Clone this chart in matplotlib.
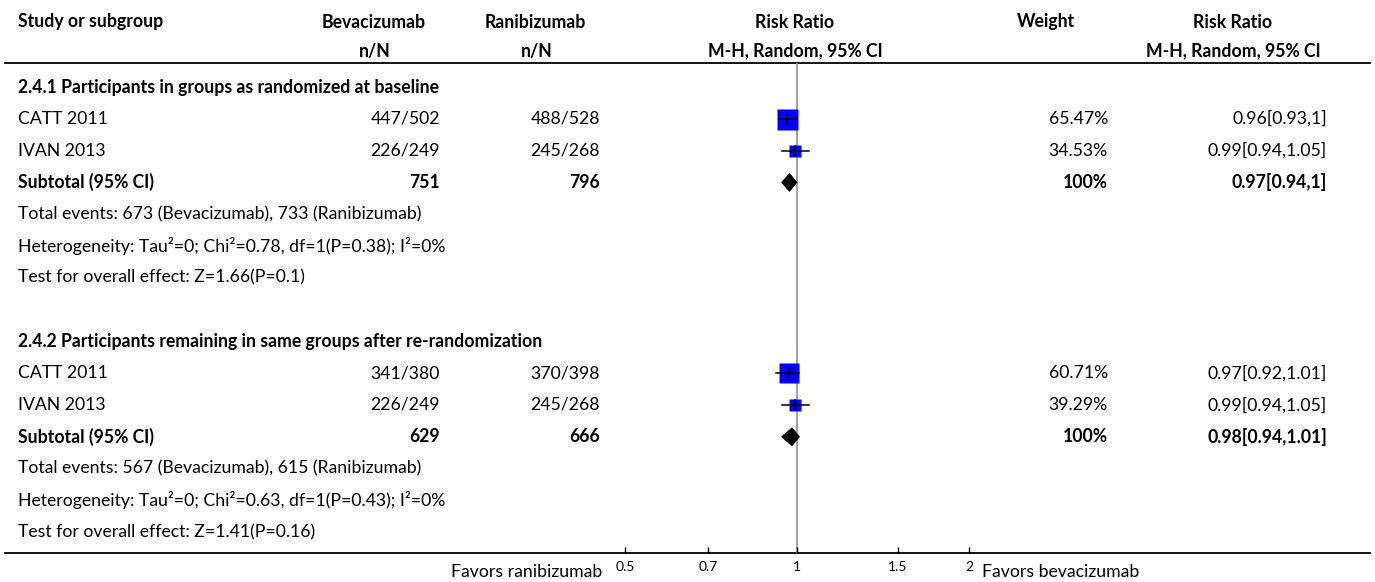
import matplotlib
matplotlib.use("Agg")
import matplotlib.pyplot as plt
from matplotlib.patches import Polygon

# ---------------- data ----------------
group_titles = ["2.4.1 Participants in groups as randomized at baseline",
                "2.4.2 Participants remaining in same groups after re-randomization"]
studies = [["CATT 2011", "IVAN 2013"], ["CATT 2011", "IVAN 2013"]]
bev_events = [[447, 226], [341, 226]]
bev_totals = [[502, 249], [380, 249]]
ran_events = [[488, 245], [370, 245]]
ran_totals = [[528, 268], [398, 268]]
rr = [[0.96, 0.99], [0.97, 0.99]]
rr_lo = [[0.93, 0.94], [0.92, 0.94]]
rr_hi = [[1.0, 1.05], [1.01, 1.05]]
weights = [[65.47, 34.53], [60.71, 39.29]]
sub_rr = [0.97, 0.98]
sub_lo = [0.94, 0.94]
sub_hi = [1.0, 1.01]
sub_bev_total = [751, 629]
sub_ran_total = [796, 666]
sub_bev_events = [673, 567]
sub_ran_events = [733, 615]
het_tau2 = [0, 0]
het_chi2 = [0.78, 0.63]
het_df = [1, 1]
het_p = [0.38, 0.43]
het_i2 = [0, 0]
test_z = [1.66, 1.41]
test_p = [0.1, 0.16]
x_ticks = [0.5, 0.7, 1, 1.5, 2]
x_ticklabels = ["0.5", "0.7", "1", "1.5", "2"]
left_label = "Favors ranibizumab"
right_label = "Favors bevacizumab"

# ---------------- layout ----------------
W, H = 1375, 582
plt.rcParams['font.family'] = ['Lato', 'DejaVu Sans']
FS = 12.7
fig = plt.figure(figsize=(W / 100, H / 100), dpi=100)
tax = fig.add_axes([0, 0, 1, 1])
tax.set_xlim(0, W)
tax.set_ylim(H, 0)
tax.axis('off')

AX_L, AX_R = 600, 975
HDR_LINE, BOT_LINE = 63, 553
fax = fig.add_axes([AX_L / W, (H - BOT_LINE) / H, (AX_R - AX_L) / W, (BOT_LINE - HDR_LINE) / H])
fax.patch.set_alpha(0)
fax.set_xscale('log')
fax.set_xlim(2 ** (-197 / 172), 2 ** (178 / 172))
fax.set_ylim(BOT_LINE, HDR_LINE)
for s in fax.spines.values():
    s.set_visible(False)
fax.set_yticks([])
fax.set_xticks(x_ticks)
fax.set_xticklabels(x_ticklabels)
fax.xaxis.set_minor_locator(matplotlib.ticker.NullLocator())
fax.tick_params(axis='x', direction='in', length=4.5, width=1, pad=6, labelsize=10, color='black')

# header
hy1, hy2 = 22, 51
tax.text(18, hy1, "Study or subgroup", fontsize=FS, fontweight='bold', va='center', ha='left')
tax.text(374, hy1, "Bevacizumab", fontsize=FS, fontweight='bold', va='center', ha='center')
tax.text(375, hy2, "n/N", fontsize=FS, fontweight='bold', va='center', ha='center')
tax.text(535, hy1, "Ranibizumab", fontsize=FS, fontweight='bold', va='center', ha='center')
tax.text(537, hy2, "n/N", fontsize=FS, fontweight='bold', va='center', ha='center')
tax.text(795, hy1, "Risk Ratio", fontsize=FS, fontweight='bold', va='center', ha='center')
tax.text(795, hy2, "M-H, Random, 95% CI", fontsize=FS, fontweight='bold', va='center', ha='center')
tax.text(1046, hy1, "Weight", fontsize=FS, fontweight='bold', va='center', ha='center')
tax.text(1233, hy1, "Risk Ratio", fontsize=FS, fontweight='bold', va='center', ha='center')
tax.text(1233, hy2, "M-H, Random, 95% CI", fontsize=FS, fontweight='bold', va='center', ha='center')
tax.plot([5, 1370], [HDR_LINE, HDR_LINE], color='black', lw=1.3)
tax.plot([5, 1370], [BOT_LINE, BOT_LINE], color='black', lw=1.3)

# null line
fax.axvline(1, color='#999999', lw=1.3, zorder=1)

X_BEV, X_RAN, X_W, X_RR = 440, 600, 1108, 1327
START, PITCH = 87, 31.8
MAXW, MAXPX = 65.47, 21


def fmt_rr(a, b, c):
    return f"{a:g}[{b:g},{c:g}]"


row = 0
for g in range(2):
    y = START + row * PITCH
    tax.text(18, y, group_titles[g], fontsize=FS, fontweight='bold', va='center')
    row += 1
    for i in range(len(studies[g])):
        y = START + row * PITCH
        tax.text(18, y, studies[g][i], fontsize=FS, va='center')
        tax.text(X_BEV, y, f"{bev_events[g][i]}/{bev_totals[g][i]}", fontsize=FS, va='center', ha='right')
        tax.text(X_RAN, y, f"{ran_events[g][i]}/{ran_totals[g][i]}", fontsize=FS, va='center', ha='right')
        tax.text(X_W, y, f"{weights[g][i]:.2f}%", fontsize=FS, va='center', ha='right')
        tax.text(X_RR, y, fmt_rr(rr[g][i], rr_lo[g][i], rr_hi[g][i]), fontsize=FS, va='center', ha='right')
        size_px = MAXPX * weights[g][i] / MAXW
        fax.plot([rr[g][i]], [y], marker='s', ms=size_px * 0.72, color='#0000ff', mec='none', zorder=3)
        fax.plot([rr_lo[g][i], rr_hi[g][i]], [y, y], color='black', lw=1.1, zorder=4)
        fax.plot([rr[g][i], rr[g][i]], [y - 5, y + 5], color='black', lw=1.1, zorder=4)
        row += 1
    y = START + row * PITCH
    tax.text(18, y, "Subtotal (95% CI)", fontsize=FS, fontweight='bold', va='center')
    tax.text(X_BEV, y, f"{sub_bev_total[g]}", fontsize=FS, fontweight='bold', va='center', ha='right')
    tax.text(X_RAN, y, f"{sub_ran_total[g]}", fontsize=FS, fontweight='bold', va='center', ha='right')
    tax.text(X_W, y, "100%", fontsize=FS, fontweight='bold', va='center', ha='right')
    tax.text(X_RR, y, fmt_rr(sub_rr[g], sub_lo[g], sub_hi[g]), fontsize=FS, fontweight='bold', va='center', ha='right')
    dia = Polygon([(sub_lo[g], y), (sub_rr[g], y - 9), (sub_hi[g], y), (sub_rr[g], y + 9)],
                  closed=True, facecolor='black', edgecolor='black', lw=0.5, zorder=3)
    fax.add_patch(dia)
    row += 1
    y = START + row * PITCH
    tax.text(18, y, f"Total events: {sub_bev_events[g]} (Bevacizumab), {sub_ran_events[g]} (Ranibizumab)",
             fontsize=FS, va='center')
    row += 1
    y = START + row * PITCH
    tax.text(18, y, f"Heterogeneity: Tau\u00b2={het_tau2[g]:g}; Chi\u00b2={het_chi2[g]:g}, df={het_df[g]}(P={het_p[g]:g}); I\u00b2={het_i2[g]}%",
             fontsize=FS, va='center')
    row += 1
    y = START + row * PITCH
    tax.text(18, y, f"Test for overall effect: Z={test_z[g]:g}(P={test_p[g]:g})", fontsize=FS, va='center')
    row += 2

tax.text(602, 572, left_label, fontsize=FS, va='center', ha='right')
tax.text(982, 572, right_label, fontsize=FS, va='center', ha='left')

fig.savefig("out.png", dpi=100)
